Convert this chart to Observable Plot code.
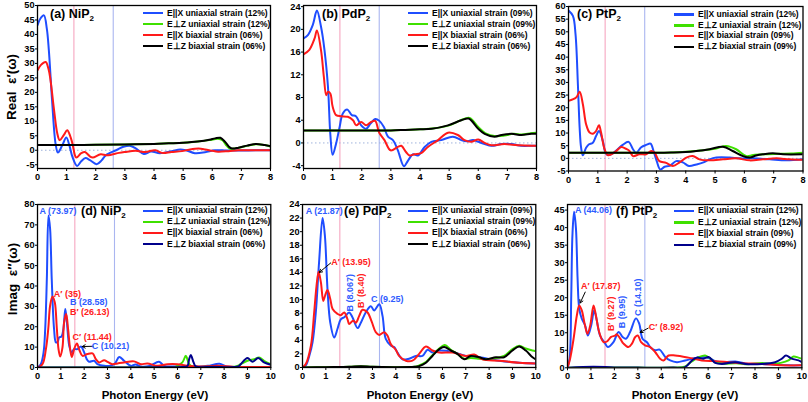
<!DOCTYPE html>
<html><head><meta charset="utf-8">
<script src="https://cdn.jsdelivr.net/npm/d3@7"></script>
<script src="https://cdn.jsdelivr.net/npm/@observablehq/plot@0.6"></script>
<style>
body{margin:0;background:#fff;}
#root{position:relative;width:808px;height:402px;overflow:hidden;font-family:"Liberation Sans",Arial,sans-serif;font-weight:bold;color:#000;}
.abs{position:absolute;white-space:nowrap;}
</style></head><body><div id="root"></div><script>
// ---------- DATA ----------
// (a) NiP2 real part
const aBlue=[[0,43.2],[0.1,45.5],[0.22,46.6],[0.32,42],[0.39,34.5],[0.5,17.3],[0.62,2.3],[0.7,-0.8],[0.85,1.7],[0.99,4.4],[1.1,1.5],[1.2,-2.3],[1.36,-5.4],[1.5,-3.8],[1.65,-2.7],[1.8,-3.4],[2.03,-4.8],[2.2,-3.5],[2.35,-1.7],[2.7,0],[2.95,1.2],[3.2,1.5],[3.4,0.5],[3.65,-1.3],[3.9,-0.4],[4.2,-1.0],[4.6,-0.3],[4.9,0.3],[5.1,0],[5.4,-1.0],[5.75,-0.7],[6.1,0],[6.5,-0.1],[7,-0.1],[7.5,0],[8,0]];
const aGreen=[[0,1.8],[1,1.8],[2,1.9],[3,2.0],[4,2.2],[4.5,2.4],[5,2.6],[5.5,3.0],[5.9,3.5],[6.2,4.0],[6.35,3.5],[6.5,1.5],[6.62,0.5],[6.8,0.7],[7.1,1.3],[7.5,2.1],[7.8,1.8],[8,1.3]];
const aRed=[[0,27.6],[0.12,29.5],[0.28,30.5],[0.38,28],[0.45,24],[0.57,13.8],[0.68,5.8],[0.76,3.5],[0.9,5.2],[1.02,6.9],[1.12,5],[1.2,2.3],[1.33,-2.5],[1.5,-1],[1.63,-0.6],[1.82,-2.3],[1.9,-2.5],[2.17,-1.4],[2.35,-1.7],[2.5,-1.6],[2.8,-0.9],[3.0,-0.6],[3.37,-0.2],[3.7,-0.6],[4.05,0],[4.27,-0.9],[4.6,-0.6],[4.96,-0.3],[5.2,0.2],[5.53,0.6],[5.76,0.3],[6.0,-0.2],[6.2,-0.5],[6.56,-0.3],[6.9,0],[7.4,0],[8,0]];
const aBlack=[[0,1.8],[1,1.8],[2,1.9],[3,2.0],[4,2.2],[4.5,2.4],[5,2.6],[5.5,3.0],[5.9,3.6],[6.1,4.1],[6.28,4.3],[6.45,2.8],[6.6,1.0],[6.7,0.6],[6.9,0.9],[7.2,1.6],[7.5,2.2],[7.8,1.8],[8,1.4]];
// (b) PdP2 real part
const bBlue=[[0,18.4],[0.15,19],[0.32,20.8],[0.46,23.3],[0.6,20.5],[0.72,16.4],[0.84,9.9],[0.92,1.6],[1.0,-2.1],[1.12,-0.1],[1.24,2.8],[1.35,5.2],[1.5,5.9],[1.66,4.9],[1.8,4.7],[1.98,3.1],[2.15,2.5],[2.3,3.4],[2.46,4.2],[2.6,3.9],[2.76,2.8],[2.9,1.1],[3.07,0.5],[3.24,-1.3],[3.45,-4.1],[3.59,-3.1],[3.76,-2.0],[3.93,-2.2],[4.16,-0.7],[4.39,0.2],[4.73,0.5],[5.13,1.1],[5.42,0.5],[5.6,0.3],[5.82,0.5],[6.0,0.2],[6.22,-0.2],[6.45,-0.5],[6.8,-0.2],[7.14,-0.2],[7.48,-0.5],[7.82,-0.5],[8,-0.5]];
const bGreen=[[0,2.2],[1,2.2],[2,2.2],[3,2.2],[3.5,2.3],[4,2.4],[4.5,2.6],[5,3.1],[5.4,4.0],[5.7,4.4],[6.0,2.8],[6.25,1.7],[6.6,1.2],[6.9,1.3],[7.2,1.6],[7.5,1.5],[7.8,1.7],[8,1.8]];
const bRed=[[0,15.6],[0.2,16.4],[0.38,18.4],[0.46,19.8],[0.6,16.4],[0.7,11.6],[0.78,8.4],[0.84,9.0],[0.92,8.7],[1.0,6.4],[1.12,4.9],[1.29,4.7],[1.52,4.6],[1.7,4.0],[1.81,3.1],[1.98,3.7],[2.15,3.1],[2.32,3.7],[2.46,3.9],[2.6,1.8],[2.78,0.5],[2.99,-1.3],[3.24,-0.7],[3.36,-0.5],[3.52,-1.6],[3.64,-2.2],[3.81,-2.0],[4.04,-1.8],[4.27,-0.7],[4.62,0.5],[4.96,1.8],[5.3,1.4],[5.53,0.5],[5.76,0.2],[6.0,0.6],[6.22,0],[6.45,-0.4],[6.9,-0.2],[7.36,-0.4],[7.82,-0.5],[8,-0.5]];
const bBlack=[[0,2.2],[1,2.2],[2,2.2],[3,2.2],[3.5,2.3],[4,2.4],[4.4,2.5],[4.96,3.1],[5.42,4.0],[5.67,4.3],[6.0,2.5],[6.22,1.6],[6.56,1.1],[6.8,1.4],[7.14,1.6],[7.48,1.4],[7.82,1.6],[8,1.6]];
// (c) PtP2 real part
const cBlue=[[0,58.4],[0.15,56.3],[0.24,49],[0.32,29.3],[0.38,12.1],[0.43,4.2],[0.49,1.2],[0.6,4.2],[0.69,5.5],[0.83,6.2],[0.94,8.8],[1.04,10.8],[1.17,6.9],[1.26,2.2],[1.34,1.3],[1.51,2.0],[1.68,3.6],[1.85,5.3],[2.05,6.5],[2.2,3.6],[2.31,2.2],[2.48,4.4],[2.65,5.3],[2.8,5.8],[2.9,2.9],[3.01,-1.1],[3.13,-4.4],[3.28,-3.3],[3.45,-3.0],[3.67,-1.1],[3.9,-1.6],[4.11,-3.0],[4.36,-2.4],[4.58,-1.7],[4.81,-0.4],[5.04,0.3],[5.5,0.3],[5.84,0],[6.29,0],[6.86,-0.4],[7.43,-0.8],[8,-0.4]];
const cGreen=[[0,2.2],[1,2.2],[2,2.2],[3,2.2],[3.5,2.3],[4,2.6],[4.5,3.1],[5,3.8],[5.38,4.9],[5.72,3.6],[6.06,0.9],[6.3,1.3],[6.7,1.6],[7.2,1.8],[7.6,1.9],[8,2.2]];
const cRed=[[0,22.7],[0.26,24],[0.38,26.3],[0.49,21.4],[0.6,13.5],[0.72,10.2],[0.85,9.8],[0.94,10.8],[1.04,13.1],[1.11,10.3],[1.23,3.6],[1.34,1.3],[1.46,1.6],[1.63,2.9],[1.8,4.5],[1.97,3.7],[2.08,2.9],[2.2,0.9],[2.42,1.6],[2.65,1.6],[2.82,2.9],[2.94,2.2],[3.1,-1.1],[3.33,-1.8],[3.56,-3.0],[3.79,-1.6],[4.02,0.3],[4.24,0.9],[4.47,-0.4],[4.81,-0.8],[5.27,-0.4],[5.72,0],[6.18,-0.8],[6.63,-0.4],[7.09,0],[7.54,-0.4],[8,-0.6]];
const cBlack=[[0,2.2],[1,2.2],[2,2.2],[3,2.2],[3.5,2.3],[4,2.5],[4.36,2.9],[4.81,3.6],[5.27,4.6],[5.6,2.9],[5.95,0.9],[6.18,0.3],[6.4,1.1],[6.63,1.6],[6.97,2.0],[7.32,1.6],[8,1.6]];
// (d) NiP2 imaginary part
const dBlue=[[0,0],[0.14,1.6],[0.26,7.4],[0.33,18.9],[0.4,43.4],[0.47,74.6],[0.54,68],[0.61,43.4],[0.71,18.9],[0.79,12.3],[0.86,12.5],[0.93,14.8],[1.03,15.2],[1.11,18.9],[1.19,28.7],[1.26,22.1],[1.36,10.7],[1.46,7.4],[1.57,9],[1.71,9],[1.86,10.3],[2.0,7.4],[2.11,4.1],[2.21,2.8],[2.43,3.3],[2.57,1.6],[2.86,0.8],[3.29,1.6],[3.5,5.2],[3.71,3.3],[4.0,0.8],[4.2,1.5],[4.43,0.5],[4.8,0.8],[5.21,2.8],[5.43,0.8],[5.86,0.5],[6.29,0.5],[6.8,0.3],[7.3,0.8],[7.8,1.8],[8.1,0.5],[8.6,0.3],[9.2,0.3],[10,0.3]];
const dGreen=[[0,0],[1,0],[3,0],[5,0.1],[5.9,0.3],[6.21,2.5],[6.36,5.7],[6.5,1.6],[6.64,0.5],[7.5,0.4],[8.5,0.5],[8.71,1.6],[9.0,3.3],[9.29,4.1],[9.5,4.9],[9.71,3.3],[10,1.6]];
const dRed=[[0,0],[0.21,1.6],[0.36,9],[0.46,18.9],[0.54,30.3],[0.64,34.9],[0.74,32],[0.83,18.9],[0.9,9],[0.97,5.4],[1.07,9.8],[1.14,22.1],[1.23,26.2],[1.31,18.9],[1.4,9],[1.47,5.2],[1.57,9],[1.69,11.8],[1.79,8.7],[1.93,5.7],[2.14,6.6],[2.36,6.9],[2.5,4.1],[2.64,2.5],[2.86,3.6],[3.0,2.8],[3.21,1.6],[3.43,2.0],[3.71,2.5],[4.14,3.0],[4.43,1.6],[4.71,2.0],[5.14,0.8],[5.57,1.6],[6.0,1.6],[6.43,0.8],[7.0,0.5],[7.71,0.8],[8.43,0.3],[10,0.3]];
const dNavy=[[0,0],[1,0],[3,0],[5,0.1],[6.2,0.3],[6.43,0.8],[6.5,4.1],[6.57,6.1],[6.69,2.5],[6.79,0.5],[7.5,0.4],[8.6,0.5],[8.71,1.6],[9.0,4.6],[9.21,2.8],[9.46,4.6],[9.71,2.5],[10,1.3]];
// (e) PdP2 imaginary part
const eBlue=[[0,0],[0.14,0.3],[0.29,1.7],[0.43,3.7],[0.57,8.1],[0.71,15.5],[0.86,22],[0.96,19.4],[1.07,11.6],[1.19,6.6],[1.36,4.4],[1.5,5.7],[1.64,7.1],[1.79,7.4],[2.0,8.1],[2.14,7.4],[2.36,5.8],[2.5,6.6],[2.71,8.1],[2.93,9.0],[3.07,8.4],[3.29,9.3],[3.43,7.6],[3.57,4.2],[3.79,3.2],[3.93,3.0],[4.07,2.2],[4.29,1.2],[4.57,1.3],[4.86,1.7],[5.14,1.7],[5.36,2.6],[5.57,2.2],[5.86,2.5],[6.43,2.3],[7.0,1.7],[7.57,1.5],[8.43,1.0],[9.29,0.7],[10,0.6]];
const eGreen=[[0,0],[1,0.05],[2,0.1],[2.5,0.2],[3,0.1],[4,0.05],[4.8,0.1],[5.0,0.3],[5.29,0.8],[5.57,1.8],[5.86,2.8],[6.1,3.3],[6.36,2.6],[6.64,2.0],[6.93,1.3],[7.21,1.4],[7.57,1.3],[7.86,1.2],[8.29,1.4],[8.64,1.7],[9.0,2.7],[9.29,3.2],[9.57,2.8],[9.86,2.5],[10,2.4]];
const eRed=[[0,0],[0.14,0.5],[0.36,3.2],[0.5,8.1],[0.6,12],[0.69,14.1],[0.79,12.5],[0.89,9.8],[0.97,10.6],[1.07,11.4],[1.19,10.1],[1.29,8.6],[1.5,7.9],[1.64,7.7],[1.79,8.1],[1.93,7.1],[2.0,6.4],[2.17,6.9],[2.29,6.6],[2.43,7.6],[2.57,8.5],[2.79,8.1],[2.97,6.7],[3.14,5.2],[3.29,4.8],[3.5,5.2],[3.64,4.7],[3.79,3.4],[4.0,2.6],[4.14,1.7],[4.43,1.0],[4.71,1.0],[5.0,2.0],[5.29,3.1],[5.57,2.5],[5.86,2.2],[6.43,2.2],[7.0,1.7],[7.36,1.9],[7.71,1.2],[8.43,1.0],[9.29,0.7],[10,0.6]];
const eBlack=[[0,0],[1,0.05],[2,0.1],[2.5,0.2],[3,0.1],[4,0.05],[4.8,0.1],[5.0,0.2],[5.29,0.7],[5.57,1.7],[5.86,2.7],[6.07,3.0],[6.36,2.5],[6.64,2.0],[6.93,1.2],[7.21,1.7],[7.57,1.5],[7.86,1.2],[8.29,1.5],[8.64,1.5],[9.0,2.5],[9.29,3.1],[9.57,2.5],[9.86,1.5],[10,1.2]];
// (f) PtP2 imaginary part
const fBlue=[[0,0],[0.09,2.6],[0.16,20.7],[0.21,37.8],[0.28,44.5],[0.36,39.8],[0.43,25.5],[0.5,16.9],[0.61,14],[0.75,12.1],[0.87,9.2],[1.01,12.1],[1.14,16.4],[1.25,13.5],[1.39,9.2],[1.61,6.9],[1.72,5.9],[1.96,7.3],[2.18,10.2],[2.35,8.8],[2.49,8.3],[2.67,10.2],[2.92,14.1],[3.06,12.6],[3.2,8.3],[3.39,7.3],[3.53,5.9],[3.74,5.0],[3.93,5.2],[4.17,3.1],[4.38,2.1],[4.67,1.6],[5.02,2.1],[5.45,2.8],[5.73,3.1],[6.02,2.8],[6.3,1.9],[6.73,1.6],[7.16,1.8],[7.72,1.1],[8.29,1.1],[8.86,0.9],[9.43,0.7],[10,0.7]];
const fGreen=[[0,0],[1,0.1],[2,0.1],[3,0.05],[4.5,0.05],[5.0,0.3],[5.3,1.8],[5.6,3.0],[5.87,3.5],[6.1,2.6],[6.3,1.6],[6.6,1.2],[7.2,1.3],[7.7,1.0],[8.3,1.4],[8.7,1.1],[9.1,1.4],[9.43,2.1],[9.64,3.2],[9.85,2.9],[10,2.6]];
const fRed=[[0,0],[0.11,2.6],[0.26,8.3],[0.4,15],[0.5,17.8],[0.61,16.4],[0.73,12.6],[0.85,9.7],[0.97,12.1],[1.11,17.8],[1.21,15],[1.35,10.2],[1.54,7.3],[1.68,7.5],[1.86,8.8],[2.03,9.2],[2.1,9.6],[2.25,8.3],[2.39,6.9],[2.6,5.9],[2.75,6.9],[2.89,8.8],[3.0,9.2],[3.14,7.3],[3.31,6.4],[3.53,5.9],[3.74,4.5],[3.95,2.6],[4.1,2.1],[4.31,3.5],[4.59,3.5],[5.16,2.9],[5.73,2.1],[6.3,1.9],[6.87,1.6],[7.44,1.3],[8.29,1.1],[9.14,0.7],[10,0.7]];
const fNavy=[[0,0],[1.1,0.3],[2,0.1],[3,0.05],[4.5,0.05],[5.02,0.2],[5.31,2.1],[5.52,2.9],[5.8,2.6],[6.02,3.1],[6.3,1.4],[6.59,1.1],[7.16,1.6],[7.58,1.1],[8.29,1.1],[8.86,1.6],[9.15,2.6],[9.32,3.5],[9.57,2.6],[9.86,2.1],[10,1.6]];

// tick values
const xTicksTop=[0,1,2,3,4,5,6,7,8];
const xTicksBottom=[0,1,2,3,4,5,6,7,8,9,10];
const yTicksA=[-5,0,5,10,15,20,25,30,35,40,45,50];
const yTicksB=[-4,0,4,8,12,16,20,24];
const yTicksC=[-5,0,5,10,15,20,25,30,35,40,45,50,55,60];
const yTicksD=[0,10,20,30,40,50,60,70,80];
const yTicksE=[0,2,4,6,8,10,12,14,16,18,20,22,24];
const yTicksF=[0,5,10,15,20,25,30,35,40,45];

// reference vertical lines (eV)
const vlinesTop=[1.25,2.6];
const vlinesBottom=[1.6,3.3];

// legend names
const namesA=["E||X uniaxial strain (12%)","E\u22A5Z uniaxial strain (12%)","E||X biaxial strain (06%)","E\u22A5Z biaxial strain (06%)"];
const namesB=["E||X uniaxial strain (09%)","E\u22A5Z uniaxial strain (09%)","E||X biaxial strain (06%)","E\u22A5Z biaxial strain (06%)"];
const namesC=["E||X uniaxial strain (12%)","E\u22A5Z uniaxial strain (12%)","E||X biaxial strain (09%)","E\u22A5Z biaxial strain (09%)"];

// peak annotations: [label, x (eV), y, series, rotation]
const annD=[["A (73.97)",0.88,77,"u",0],["A\u2032 (35)",1.28,35.8,"b",0],["B (28.58)",2.2,31.9,"u",0],["B\u2032 (26.13)",2.24,27,"b",0],["C\u2032 (11.44)",2.34,14.9,"b",0],["C (10.21)",3.13,10.5,"u",0]];
const arrowD=[[2.38,10.4,1.92,10.3]];
const annE=[["A (21.87)",0.93,23.1,"u",0],["A\u2032 (13.95)",2.08,15.5,"b",0],["B (8.067)",2.04,11.0,"u",-90],["B\u2032 (8.40)",2.53,11.3,"b",-90],["C (9.25)",3.63,10.0,"u",0]];
const arrowE=[[1.21,15.4,0.72,14.0]];
const annF=[["A (44.06)",1.11,44.9,"u",0],["A\u2032 (17.87)",1.42,23.3,"b",0],["B\u2032 (9.27)",1.86,15.4,"b",-90],["B (9.95)",2.35,15.9,"u",-90],["C (14.10)",3.03,20.1,"u",-90],["C\u2032 (8.92)",4.2,11.6,"b",0]];
const arrowF=[[0.755,21.6,0.54,18.5],[3.44,11.3,3.1,10.1]];

// ---------- STYLE / LAYOUT ----------
const BLUE="#1f4dff", GREEN="#3fe000", RED="#ff1a1a", BLACK="#000000", NAVY="#00008b";
const ANNC={u:"#2f5cff", b:"#ff2020"};
const VCOL=["#f6a6c0","#aab6f0"];
const FONT='"Liberation Sans",Arial,sans-serif';

const panels=[
 {data:[aBlue,aGreen,aRed,aBlack],colors:[BLUE,GREEN,RED,BLACK],names:namesA,xd:[0,8],yd:[-6.3,50],xt:xTicksTop,yt:yTicksA,vl:vlinesTop,zero:true,box:[37,5,233,163],leg:[143,13,11],title:["(a) NiP","2"],tpos:[50,14]},
 {data:[bBlue,bGreen,bRed,bBlack],colors:[BLUE,GREEN,RED,BLACK],names:namesB,xd:[0,8],yd:[-4.5,24.2],xt:xTicksTop,yt:yTicksB,vl:vlinesTop,zero:true,box:[303,5,233,163],leg:[408,13,11],title:["(b) PdP","2"],tpos:[322,14]},
 {data:[cBlue,cGreen,cRed,cBlack],colors:[BLUE,GREEN,RED,BLACK],names:namesC,xd:[0,8],yd:[-5,60],xt:xTicksTop,yt:yTicksC,vl:vlinesTop,zero:true,box:[567.5,5.7,234.5,164.5],leg:[674,14.3,10.8],title:["(c) PtP","2"],tpos:[577,14]},
 {data:[dBlue,dGreen,dRed,dNavy],colors:[BLUE,GREEN,RED,NAVY],names:namesA,xd:[0,10],yd:[0,80],xt:xTicksBottom,yt:yTicksD,vl:vlinesBottom,zero:false,box:[36.7,204,233.3,163],leg:[143,210.7,11.1],title:["(d) NiP","2"],tpos:[81,211],ann:annD,arr:arrowD},
 {data:[eBlue,eGreen,eRed,eBlack],colors:[BLUE,GREEN,RED,BLACK],names:namesB,xd:[0,10],yd:[0,24],xt:xTicksBottom,yt:yTicksE,vl:vlinesBottom,zero:false,box:[301.7,204,233.3,163],leg:[408,210.7,11.1],title:["(e) PdP","2"],tpos:[344,211],ann:annE,arr:arrowE},
 {data:[fBlue,fGreen,fRed,fNavy],colors:[BLUE,GREEN,RED,NAVY],names:namesC,xd:[0,10],yd:[0,46.6],xt:xTicksBottom,yt:yTicksF,vl:vlinesBottom,zero:false,box:[567.3,204,234.4,163.3],leg:[674,210.7,11.4],title:["(f) PtP","2"],tpos:[616,211],ann:annF,arr:arrowF}
];

const root=document.getElementById("root");
function addDiv(html,css){const d=document.createElement("div");d.className="abs";d.innerHTML=html;Object.assign(d.style,css);root.appendChild(d);return d;}

panels.forEach((p,pi)=>{
  const [L,T,W,H]=p.box;
  const ml=32,mr=8,mt=6,mb=26;
  const marks=[];
  p.vl.forEach((v,i)=>marks.push(Plot.ruleX([v],{stroke:VCOL[i],strokeWidth:1.1})));
  if(p.zero) marks.push(Plot.ruleY([0],{stroke:"#9fb2dc",strokeDasharray:"1.5,2.5",strokeWidth:1}));
  p.data.forEach((s,i)=>marks.push(Plot.line(s,{x:d=>d[0],y:d=>d[1],stroke:p.colors[i],strokeWidth:2,curve:"catmull-rom",clip:true})));
  if(p.arr) marks.push(Plot.arrow(p.arr,{x1:d=>d[0],y1:d=>d[1],x2:d=>d[2],y2:d=>d[3],stroke:"#000",strokeWidth:1,headLength:5}));
  if(p.ann) marks.push(Plot.text(p.ann,{x:d=>d[1],y:d=>d[2],text:d=>d[0],fill:d=>ANNC[d[3]],rotate:d=>d[4],fontSize:9,fontWeight:"bold"}));
  marks.push(Plot.frame({stroke:"#000",strokeWidth:1.3}));
  const svg=Plot.plot({
    width:W+ml+mr,height:H+mt+mb,marginLeft:ml,marginRight:mr,marginTop:mt,marginBottom:mb,
    color:{type:"identity"},
    x:{domain:p.xd,ticks:p.xt,tickFormat:d=>String(d),tickSize:3,tickPadding:2,label:null},
    y:{domain:p.yd,ticks:p.yt,tickFormat:d=>String(d),tickSize:2,tickPadding:1,label:null},
    style:{background:"transparent",fontSize:"9.2px",fontWeight:"bold",fontFamily:FONT,color:"#000",overflow:"visible"},
    marks
  });
  svg.style.position="absolute";
  svg.style.left=(L-ml)+"px";
  svg.style.top=(T-mt)+"px";
  root.appendChild(svg);

  // legend
  const [lx,ly,lg]=p.leg;
  p.names.forEach((n,i)=>{
    addDiv(`<span style="display:inline-block;width:20px;height:2.4px;background:${p.colors[i]};vertical-align:middle;margin-right:4px"></span><span style="vertical-align:middle">${n}</span>`,
      {left:lx+"px",top:(ly+i*lg-5.5)+"px",fontSize:"8.5px",lineHeight:"11px"});
  });
  // panel title
  addDiv(`${p.title[0]}<sub style="font-size:8px;vertical-align:-3px">${p.title[1]}</sub>`,
    {left:p.tpos[0]+"px",top:(p.tpos[1]-8)+"px",fontSize:"12.5px",lineHeight:"16px"});
});

// axis titles
addDiv("Real&nbsp; \u03B5\u2032(\u03C9)",{left:"11px",top:"87px",fontSize:"13.5px",transform:"translate(-50%,-50%) rotate(-90deg)"});
addDiv("Imag&nbsp; \u03B5\u2033(\u03C9)",{left:"12px",top:"279px",fontSize:"13.5px",transform:"translate(-50%,-50%) rotate(-90deg)"});
[155,420,685].forEach(cx=>addDiv("Photon Energy (eV)",{left:cx+"px",top:"395px",fontSize:"11.5px",transform:"translate(-50%,-50%)"}));
</script></body></html>
